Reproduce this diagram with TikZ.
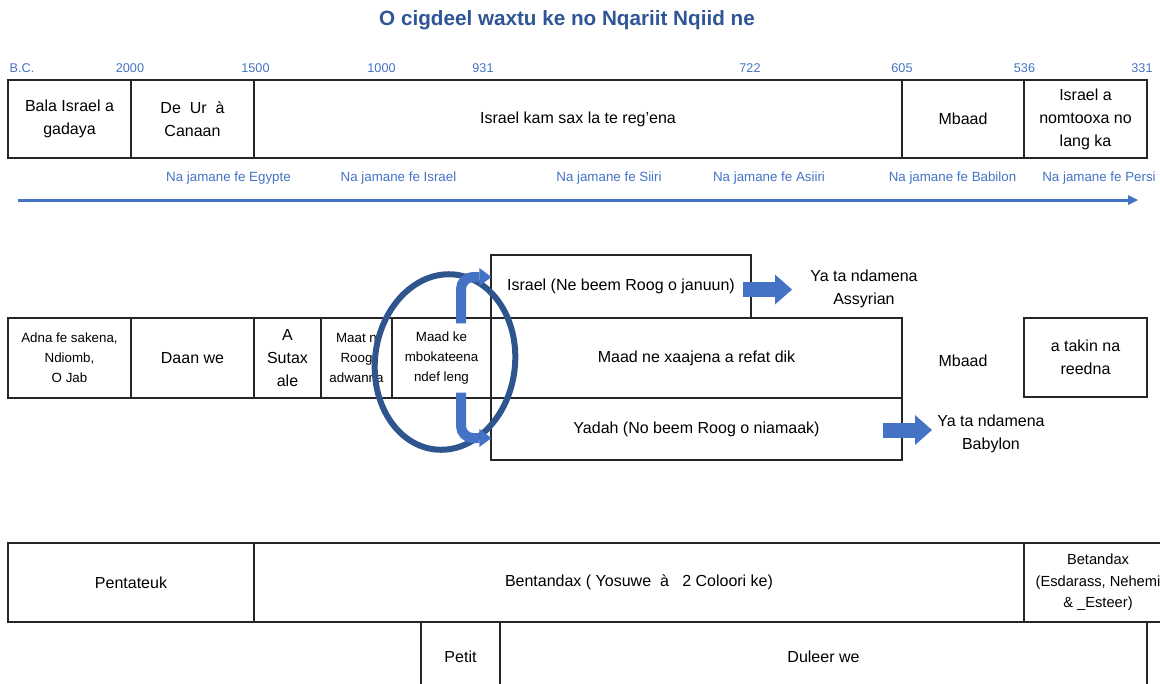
\documentclass[tikz,border=0pt]{standalone}
\usepackage{fontspec}
\setmainfont{Liberation Sans}
\usepackage{tikz}
\usetikzlibrary{arrows.meta,calc}

\definecolor{titleblue}{RGB}{47,85,151}
\definecolor{lineblue}{RGB}{68,114,196}
\definecolor{ringblue}{RGB}{47,85,143}

\begin{document}
\begin{tikzpicture}[x=0.75pt,y=0.75pt,yscale=-1,xscale=1,
	box/.style={draw=black!85, line width=0.9pt, inner sep=0.75pt, align=center, font=\fontsize{12}{17.25}\selectfont},
	smallbox/.style={box, font=\fontsize{10}{15}\selectfont},
	yearlbl/.style={text=lineblue, inner sep=0.75pt, font=\fontsize{9.5}{11}\selectfont},
	eralbl/.style={text=lineblue, inner sep=0.75pt, font=\fontsize{10}{12}\selectfont},
	plaintxt/.style={inner sep=0.75pt, align=center, font=\fontsize{12}{17.5}\selectfont},
	blockarrow/.style={draw=lineblue, line width=11.25pt, -{Triangle[length=12.75pt,width=22.5pt,line width=0pt]}},
	bentarrow/.style={draw=lineblue, line width=7.5pt, rounded corners=9pt, -{Triangle[length=9pt,width=13.5pt,line width=0pt]}}
	]
	\useasboundingbox (0,0) rectangle (1160,683);
	
	% Title
	\node[text=titleblue, inner sep=0.75pt, font=\bfseries\fontsize{15.5}{18}\selectfont] (title) at (567,20) {O cigdeel waxtu ke no Nqariit Nqiid ne};
	
	% Text Node
	\node[yearlbl] (bc) at (22,68) {B.C.};
	\node[yearlbl] (y2000) at (130,68) {2000};
	\node[yearlbl] (y1500) at (255.5,68) {1500};
	\node[yearlbl] (y1000) at (381.5,68) {1000};
	\node[yearlbl] (y931) at (483,68) {931};
	\node[yearlbl] (y722) at (750,68) {722};
	\node[yearlbl] (y605) at (902,68) {605};
	\node[yearlbl] (y536) at (1024.5,68) {536};
	\node[yearlbl] (y331) at (1142,68) {331};
	
	%Shape: Rectangle (top row)
	\node[box, minimum width=92.25pt, minimum height=58.5pt] (gadaya) at (69.5,119) {Bala Israel a\\gadaya};
	\node[box, minimum width=92.25pt, minimum height=58.5pt] (canaan) at (192.5,119) {De\ \ Ur\ \ à\\Canaan};
	\node[box, minimum width=486pt, minimum height=58.5pt] (regena) at (578,119) {Israel kam sax la te reg’ena};
	\node[box, minimum width=91.5pt, minimum height=58.5pt] (mbaadtop) at (963,119) {Mbaad};
	\node[box, minimum width=92.25pt, minimum height=58.5pt] (nomtooxa) at (1085.5,119) {Israel a\\nomtooxa no\\lang ka};
	
	% Text Node
	\node[eralbl] (egypte) at (228.5,178) {Na jamane fe Egypte};
	\node[eralbl] (israelera) at (398.5,178) {Na jamane fe Israel};
	\node[eralbl] (siiri) at (609,178) {Na jamane fe Siiri};
	\node[eralbl] (asiiri) at (769,178) {Na jamane fe Asiiri};
	\node[eralbl] (babilon) at (952.5,178) {Na jamane fe Babilon};
	\node[eralbl] (persi) at (1099,178) {Na jamane fe Persi};
	
	%Straight Lines
	\coordinate (tstart) at (18,200);
	\coordinate (tend) at (1138,200);
	\draw[lineblue, line width=2.25pt, -{Triangle[length=7.5pt,width=7.5pt,line width=0pt]}] (tstart) -- (tend);
	
	%Shape: Rectangle (middle row)
	\node[smallbox, minimum width=92.25pt, minimum height=60pt] (adna) at (69.5,358) {Adna fe sakena,\\Ndiomb,\\O Jab};
	\node[box, minimum width=92.25pt, minimum height=60pt] (daan) at (192.5,358) {Daan we};
	\node[box, minimum width=50.25pt, minimum height=60pt] (sutax) at (287.5,358) {A\\Sutax\\ale};
	\node[smallbox, minimum width=53.25pt, minimum height=60pt] (maat) at (356.5,358) {Maat n\\Roog\\adwanna};
	\node[smallbox, minimum width=74.25pt, minimum height=60pt] (maadke) at (441.5,358) {Maad ke\\mbokateena\\ndef leng};
	\node[box, minimum width=195pt, minimum height=47.25pt] (israel) at (621,286.5) {Israel (Ne beem Roog o januun)};
	\node[box, minimum width=308.25pt, minimum height=60pt] (refat) at (696.5,358) {Maad ne xaajena a refat dik};
	\node[box, minimum width=308.25pt, minimum height=46.5pt] (yadah) at (696.5,429) {Yadah (No beem Roog o niamaak)};
	\node[box, minimum width=92.25pt, minimum height=59.25pt] (takin) at (1085.5,357.5) {a takin na\\reedna};
	
	% Text Node
	\node[plaintxt] (mbaadmid) at (963,361) {Mbaad};
	\node[plaintxt, anchor=west] (assyr) at (809,289) {Ya ta ndamena\\Assyrian};
	\node[plaintxt, anchor=west] (babyl) at (936,434) {Ya ta ndamena\\Babylon};
	
	%Shape: Ellipse
	\draw[ringblue, line width=4.5pt, rotate around={7:(445,362)}] (445,362) ellipse [x radius=70, y radius=88];
	
	%Bent Arrows
	\draw[bentarrow] ($(maadke.north)+(19.5,6)$) |- ($(israel.west)+(1,-9.5)$);
	\draw[bentarrow] ($(maadke.south)+(19.5,-6)$) |- ($(yadah.west)+(1,9)$);
	
	%Right Arrows
	\draw[blockarrow] ($(israel.east)+(-9,3)$) -- ($(israel.east -| assyr.west)+(-17,3)$);
	\draw[blockarrow] ($(yadah.east)+(-20,1)$) -- ($(yadah.east -| babyl.west)+(-4,1)$);
	
	%Shape: Rectangle (bottom rows)
	\node[box, minimum width=184.5pt, minimum height=59.25pt] (pentateuk) at (131,582.5) {Pentateuk};
	\node[box, minimum width=577.5pt, minimum height=59.25pt] (bentandax) at (639,582.5) {Bentandax ( Yosuwe\ \ à\ \ \ 2 Coloori ke)};
	\node[box, minimum width=111pt, minimum height=59.25pt, font=\fontsize{11}{16}\selectfont] (betandax) at (1098,582.5) {Betandax\\(Esdarass, Nehemi\\\& \_Esteer)};
	\node[box, minimum width=59.25pt, minimum height=52.5pt] (petit) at (460.5,657) {Petit};
	\node[box, minimum width=485.25pt, minimum height=52.5pt] (duleer) at (823.5,657) {Duleer we};
	
\end{tikzpicture}
\end{document}
